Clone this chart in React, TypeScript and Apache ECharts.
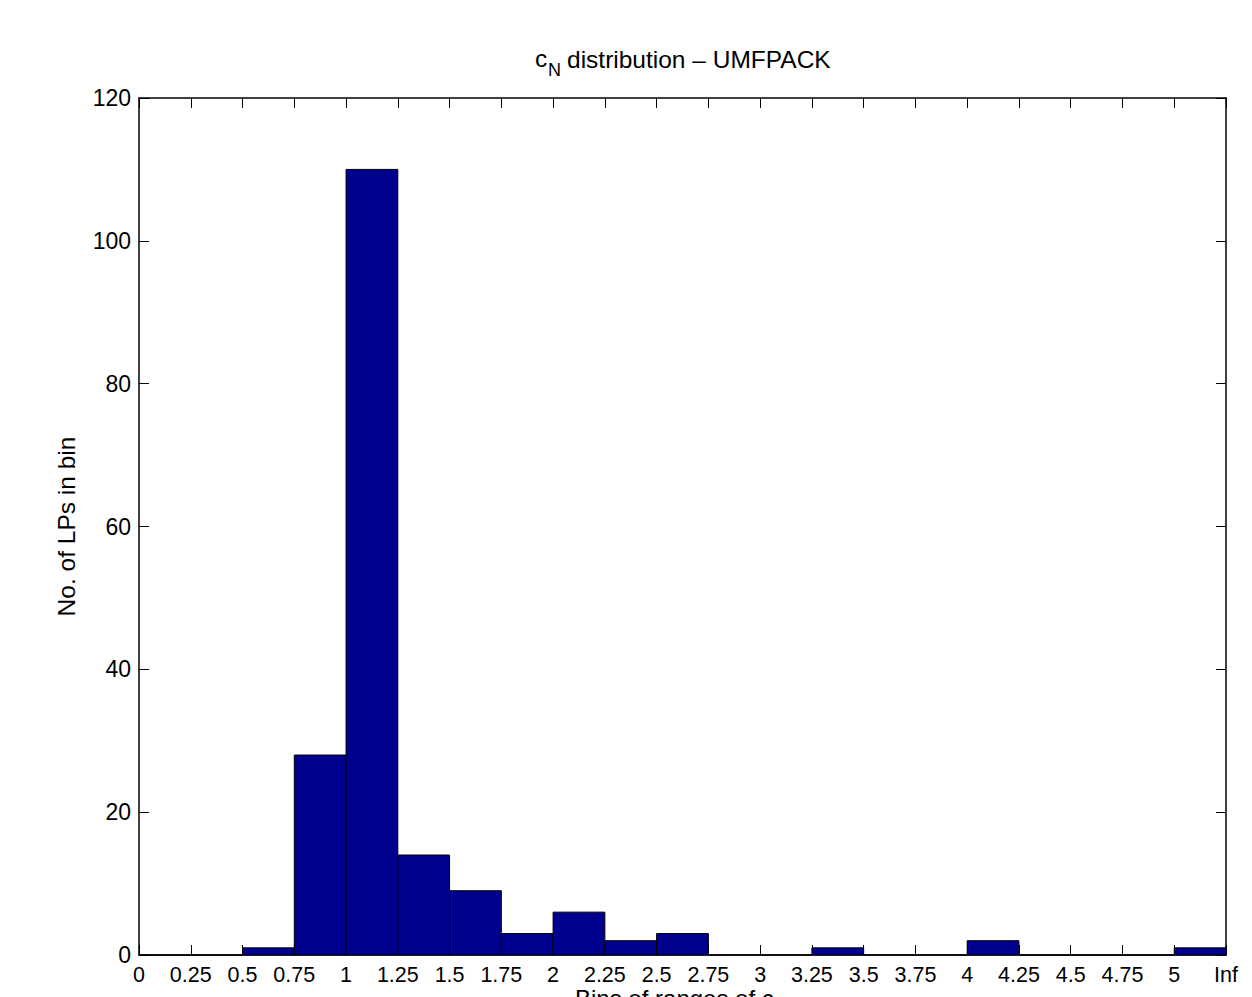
import React, { useEffect, useRef } from "react";
import * as echarts from "echarts";

const tickLabels = ["0", "0.25", "0.5", "0.75", "1", "1.25", "1.5", "1.75", "2", "2.25", "2.5", "2.75", "3", "3.25", "3.5", "3.75", "4", "4.25", "4.5", "4.75", "5", "Inf"];
// counts for each bin between consecutive tick labels
const binCounts = [0, 0, 1, 28, 110, 14, 9, 3, 6, 2, 3, 0, 0, 1, 0, 0, 2, 0, 0, 0, 1];
const yTicks = { min: 0, max: 120, interval: 20 };

const FONT = "Liberation Sans, Arial, Helvetica, sans-serif";

export default function App() {
  const ref = useRef<HTMLDivElement>(null);
  useEffect(() => {
    if (!ref.current) return;
    const chart = echarts.init(ref.current, undefined, { renderer: "svg" });
    const data = binCounts.map((v, i) => [i, i + 1, v]);
    const nBins = tickLabels.length - 1;
    const axisLineStyle = { color: "#000", width: 1.5 };
    chart.setOption({
      animation: false,
      backgroundColor: "#fff",
      grid: { left: 139, top: 98, right: 26, bottom: 42, containLabel: false },
      graphic: [
        { type: "text", left: 535, top: 46, style: { text: "c", font: `24.5px ${FONT}`, fill: "#000" } },
        { type: "text", left: 548, top: 61, style: { text: "N", font: `18px ${FONT}`, fill: "#000" } },
        { type: "text", left: 567, top: 47, style: { text: "distribution \u2013 UMFPACK", font: `24.5px ${FONT}`, fill: "#000" } },
        { type: "text", left: 575, top: 986, style: { text: "Bins of ranges of c", font: `24px ${FONT}`, fill: "#000" } },
      ],
      xAxis: [
        {
          type: "value",
          min: 0,
          max: nBins,
          interval: 1,
          position: "bottom",
          axisLine: { show: true, onZero: false, lineStyle: axisLineStyle },
          axisTick: { show: true, inside: true, length: 10, lineStyle: { color: "#000", width: 1 } },
          axisLabel: {
            show: true,
            margin: 9,
            color: "#000",
            fontSize: 21.5,
            fontFamily: FONT,
            formatter: (v: number) => tickLabels[Math.round(v)] ?? "",
            showMinLabel: true,
            showMaxLabel: true,
          },
          splitLine: { show: false },
        },
        {
          type: "value",
          min: 0,
          max: nBins,
          interval: 1,
          position: "top",
          axisLine: { show: true, onZero: false, lineStyle: axisLineStyle },
          axisTick: { show: true, inside: true, length: 10, lineStyle: { color: "#000", width: 1 } },
          axisLabel: { show: false },
          splitLine: { show: false },
        },
      ],
      yAxis: [
        {
          type: "value",
          ...yTicks,
          position: "left",
          name: "No. of LPs in bin",
          nameLocation: "middle",
          nameGap: 60,
          nameTextStyle: { color: "#000", fontSize: 24.5, fontFamily: FONT },
          axisLine: { show: true, onZero: false, lineStyle: axisLineStyle },
          axisTick: { show: true, inside: true, length: 10, lineStyle: { color: "#000", width: 1 } },
          axisLabel: { show: true, margin: 8, color: "#000", fontSize: 23, fontFamily: FONT },
          splitLine: { show: false },
        },
        {
          type: "value",
          ...yTicks,
          position: "right",
          axisLine: { show: true, onZero: false, lineStyle: axisLineStyle },
          axisTick: { show: true, inside: true, length: 10, lineStyle: { color: "#000", width: 1 } },
          axisLabel: { show: false },
          splitLine: { show: false },
        },
      ],
      series: [
        {
          type: "custom",
          xAxisIndex: 0,
          yAxisIndex: 0,
          data,
          encode: { x: [0, 1], y: 2 },
          renderItem: (params: any, api: any) => {
            const p0 = api.coord([api.value(0), api.value(2)]);
            const p1 = api.coord([api.value(1), 0]);
            return {
              type: "rect",
              shape: { x: p0[0], y: p0[1], width: p1[0] - p0[0], height: p1[1] - p0[1] },
              style: { fill: "#00008f", stroke: "#000", lineWidth: 1 },
            };
          },
        },
      ],
    });
    return () => chart.dispose();
  }, []);
  return <div ref={ref} style={{ position: "absolute", left: 0, top: 0, width: 1252, height: 997 }} />;
}
